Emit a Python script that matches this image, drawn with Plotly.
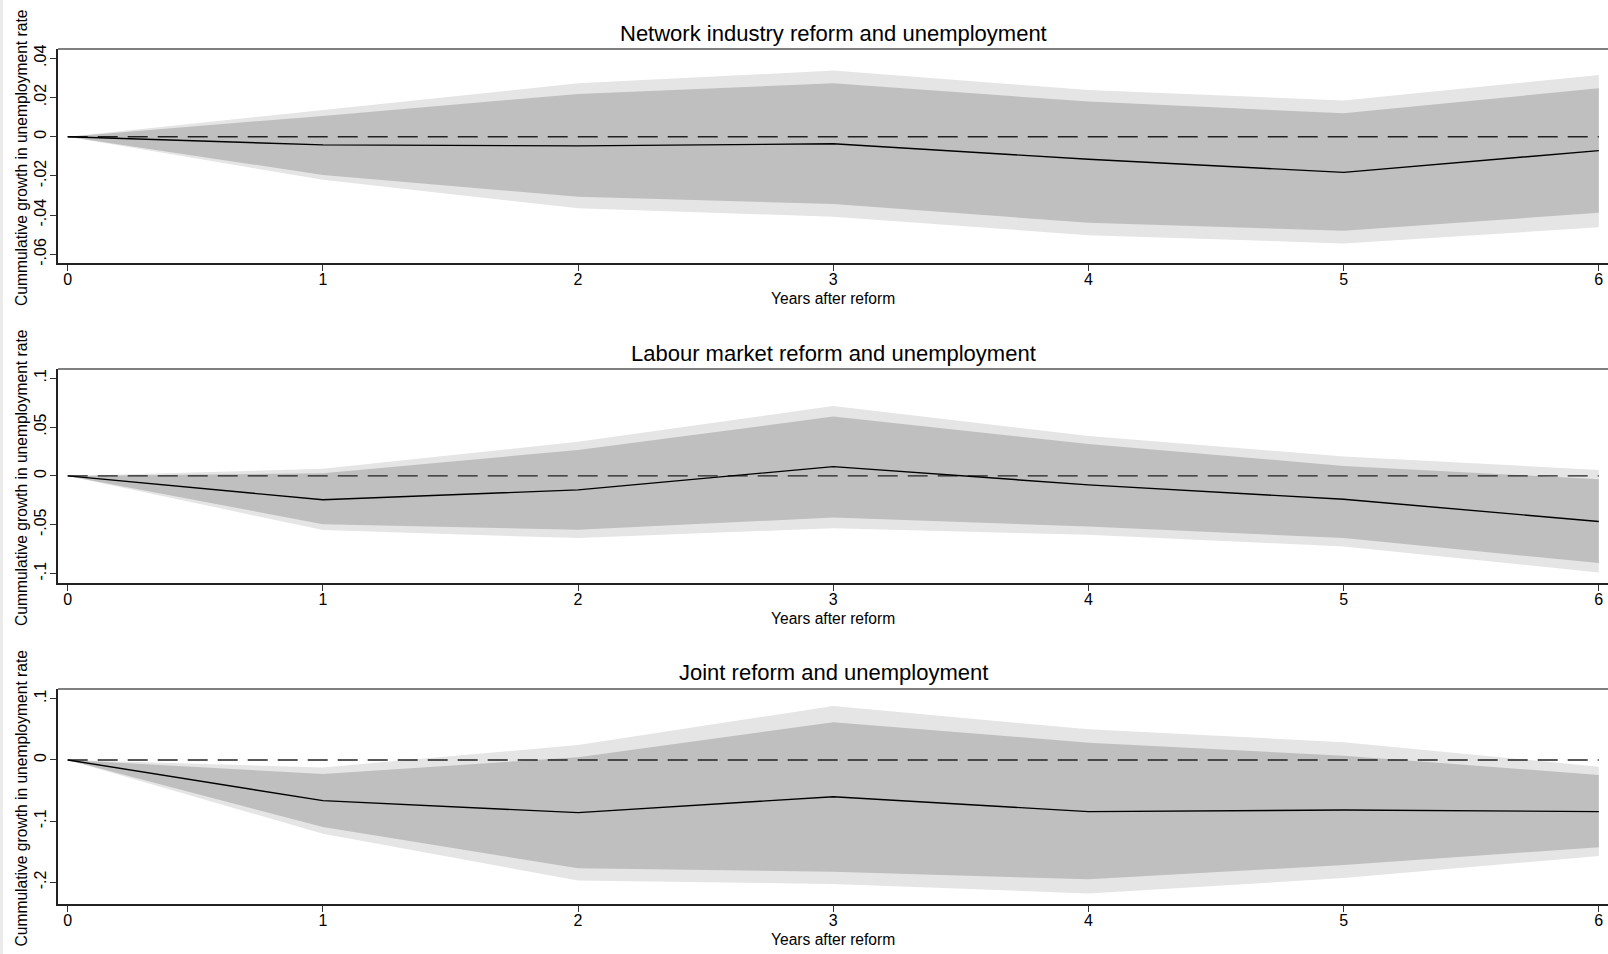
import plotly.graph_objects as go

# Horizon (years after reform)
years = [0, 1, 2, 3, 4, 5, 6]

titles = [
    "Network industry reform and unemployment",
    "Labour market reform and unemployment",
    "Joint reform and unemployment",
]

# Network industry reform: point estimate and confidence bands
net_est = [0, -0.0042, -0.0047, -0.0036, -0.0115, -0.0182, -0.0071]
net_in_hi = [0, 0.0106, 0.0218, 0.0272, 0.0179, 0.0119, 0.0247]
net_in_lo = [0, -0.0195, -0.0306, -0.0343, -0.0439, -0.0480, -0.0388]
net_out_hi = [0, 0.0136, 0.0272, 0.0337, 0.0238, 0.0184, 0.0315]
net_out_lo = [0, -0.0220, -0.0365, -0.0408, -0.0502, -0.0544, -0.0462]

# Labour market reform
lab_est = [0, -0.0245, -0.0143, 0.0095, -0.0092, -0.0239, -0.0467]
lab_in_hi = [0, 0.0027, 0.0266, 0.0607, 0.0327, 0.0102, -0.0034]
lab_in_lo = [0, -0.0495, -0.0552, -0.0426, -0.0518, -0.0637, -0.0893]
lab_out_hi = [0, 0.0072, 0.0350, 0.0716, 0.0409, 0.0198, 0.0061]
lab_out_lo = [0, -0.0555, -0.0637, -0.0535, -0.0603, -0.0723, -0.0988]

# Joint reform
joint_est = [0, -0.0665, -0.0860, -0.0600, -0.0844, -0.0817, -0.0844]
joint_in_hi = [0, -0.0229, 0.0044, 0.0616, 0.0283, 0.0071, -0.0245]
joint_in_lo = [0, -0.1095, -0.1770, -0.1825, -0.1950, -0.1716, -0.1427]
joint_out_hi = [0, -0.0122, 0.0245, 0.0882, 0.0500, 0.0290, -0.0109]
joint_out_lo = [0, -0.1205, -0.1970, -0.2026, -0.2180, -0.1930, -0.1570]

# Y tick values and their labels for each panel
net_ticks = [-0.06, -0.04, -0.02, 0, 0.02, 0.04]
net_ticklabels = ["-.06", "-.04", "-.02", "0", ".02", ".04"]
lab_ticks = [-0.1, -0.05, 0, 0.05, 0.1]
lab_ticklabels = ["-.1", "-.05", "0", ".05", ".1"]
joint_ticks = [-0.2, -0.1, 0, 0.1]
joint_ticklabels = ["-.2", "-.1", "0", ".1"]

y_ranges = [[-0.0644, 0.0447], [-0.1097, 0.1094], [-0.2353, 0.116]]
domains = [[0.7497, 1.0], [0.3754, 0.6257], [0.0, 0.2515]]

panels = [
    (net_est, net_in_hi, net_in_lo, net_out_hi, net_out_lo, net_ticks, net_ticklabels),
    (lab_est, lab_in_hi, lab_in_lo, lab_out_hi, lab_out_lo, lab_ticks, lab_ticklabels),
    (joint_est, joint_in_hi, joint_in_lo, joint_out_hi, joint_out_lo, joint_ticks, joint_ticklabels),
]

FONT = "Liberation Sans, Arial, Helvetica, sans-serif"
OUTER = "#e5e5e5"
INNER = "#bfbfbf"

fig = go.Figure()
layout = dict(
    width=1608,
    height=954,
    margin=dict(l=58, r=0, t=49, b=50),
    paper_bgcolor="white",
    plot_bgcolor="white",
    showlegend=False,
    font=dict(family=FONT, color="black", size=16),
    shapes=[],
    annotations=[],
)

for i, (est, in_hi, in_lo, out_hi, out_lo, tvals, ttext) in enumerate(panels):
    n = i + 1
    xa = "x" if n == 1 else f"x{n}"
    ya = "y" if n == 1 else f"y{n}"
    xkey = "xaxis" if n == 1 else f"xaxis{n}"
    ykey = "yaxis" if n == 1 else f"yaxis{n}"

    # outer band
    fig.add_trace(go.Scatter(
        x=years + years[::-1], y=out_hi + out_lo[::-1],
        fill="toself", fillcolor=OUTER, line=dict(width=0, color=OUTER),
        mode="lines", hoverinfo="skip", xaxis=xa, yaxis=ya))
    # inner band
    fig.add_trace(go.Scatter(
        x=years + years[::-1], y=in_hi + in_lo[::-1],
        fill="toself", fillcolor=INNER, line=dict(width=0, color=INNER),
        mode="lines", hoverinfo="skip", xaxis=xa, yaxis=ya))
    # zero reference line
    fig.add_trace(go.Scatter(
        x=years, y=[0] * len(years), mode="lines",
        line=dict(color="#222222", width=1.4, dash="20px,10px"),
        hoverinfo="skip", xaxis=xa, yaxis=ya))
    # point estimate
    fig.add_trace(go.Scatter(
        x=years, y=est, mode="lines",
        line=dict(color="black", width=1.4),
        xaxis=xa, yaxis=ya))

    layout[xkey] = dict(
        domain=[0, 1], range=[-0.038, 6.036], anchor=ya,
        tickvals=years, ticktext=[str(v) for v in years],
        ticks="outside", ticklen=6, tickwidth=1, tickcolor="#333333",
        ticklabelstandoff=-5,
        showline=True, linecolor="#222222", linewidth=2,
        showgrid=False, zeroline=False,
        tickfont=dict(size=16, family=FONT, color="black"),
    )
    layout[ykey] = dict(
        domain=domains[i], range=y_ranges[i], anchor=xa,
        tickvals=tvals, ticktext=ttext, tickangle=-90,
        ticks="outside", ticklen=6, tickwidth=1, tickcolor="#333333",
        ticklabelstandoff=-2,
        showline=True, linecolor="#222222", linewidth=2,
        showgrid=False, zeroline=False,
        tickfont=dict(size=16, family=FONT, color="black"),
    )

    top = domains[i][1]
    bottom = domains[i][0]
    # top frame line
    layout["shapes"].append(dict(
        type="line", xref="paper", yref="paper", x0=0, x1=1, y0=top, y1=top,
        line=dict(color="#7f7f7f", width=2)))
    # panel title
    layout["annotations"].append(dict(
        text=titles[i], xref="paper", yref="paper", x=0.5, y=top,
        yshift=16, xanchor="center", yanchor="middle", showarrow=False,
        font=dict(size=22, family=FONT, color="black")))
    # x axis title
    layout["annotations"].append(dict(
        text="Years after reform", xref="paper", yref="paper", x=0.5, y=bottom,
        yshift=-35, xanchor="center", yanchor="middle", showarrow=False,
        font=dict(size=15.6, family=FONT, color="black")))
    # y axis title
    layout["annotations"].append(dict(
        text="Cummulative growth in unemployment rate", xref="paper", yref="paper",
        x=0, xshift=-37, y=(top + bottom) / 2, yshift=-2, textangle=-90,
        xanchor="center", yanchor="middle", showarrow=False,
        font=dict(size=15.6, family=FONT, color="black")))

# thin grey strip along the left edge of the page
layout["shapes"].append(dict(
    type="rect", xref="paper", yref="paper", x0=-58 / 1550, x1=-55 / 1550,
    y0=-50 / 855, y1=1 + 49 / 855, line=dict(width=0), fillcolor="#ebebeb"))

fig.update_layout(**layout)
fig.write_html("out.html")
